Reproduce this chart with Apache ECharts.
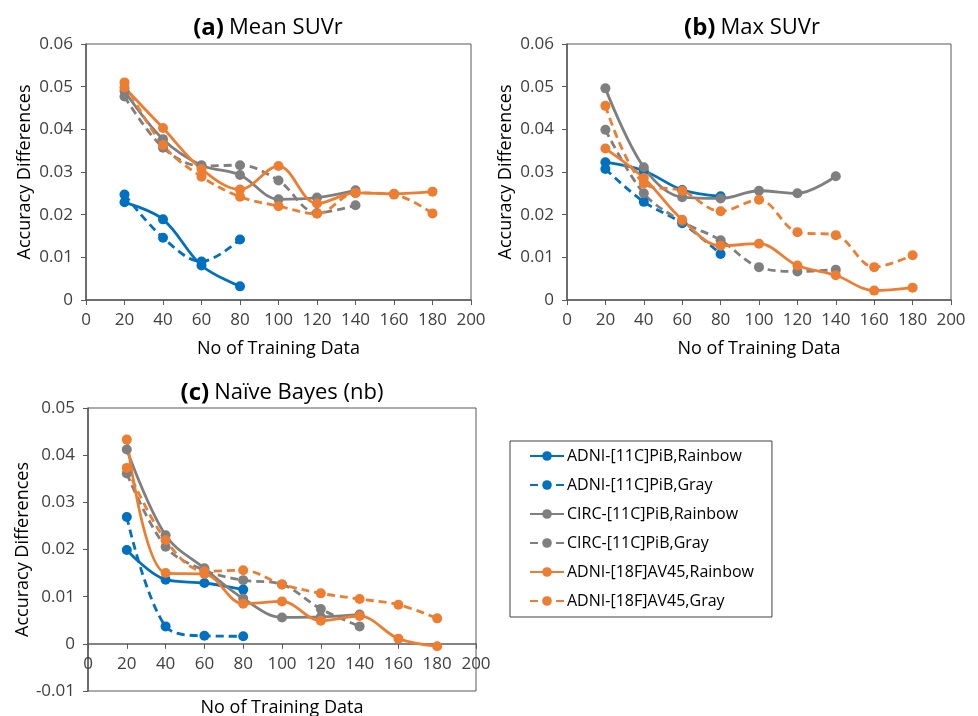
<!DOCTYPE html>
<html>
<head>
<meta charset="utf-8">
<script src="https://cdn.jsdelivr.net/npm/echarts@6/dist/echarts.min.js"></script>
<style>
  html, body { margin: 0; padding: 0; background: #fff; }
  #main { width: 978px; height: 716px; }
</style>
</head>
<body>
<div id="main"></div>
<script>
// training data sizes shared by all panels
var trainSizes = [20, 40, 60, 80, 100, 120, 140, 160, 180];

// (a) Mean SUVr
var meanPibRainbow = [0.0229, 0.0189, 0.0081, 0.0032];
var meanPibGray = [0.0247, 0.0146, 0.0090, 0.0142];
var meanCircRainbow = [0.0490, 0.0377, 0.0316, 0.0293, 0.0236, 0.0240, 0.0257];
var meanCircGray = [0.0477, 0.0357, 0.0314, 0.0316, 0.0280, 0.0204, 0.0222];
var meanAv45Rainbow = [0.0498, 0.0403, 0.0307, 0.0259, 0.0314, 0.0226, 0.0251, 0.0249, 0.0254];
var meanAv45Gray = [0.0510, 0.0363, 0.0289, 0.0242, 0.0220, 0.0202, 0.0251, 0.0247, 0.0203];

// (b) Max SUVr
var maxPibRainbow = [0.0323, 0.0303, 0.0258, 0.0243];
var maxPibGray = [0.0307, 0.0230, 0.0180, 0.0108];
var maxCircRainbow = [0.0496, 0.0311, 0.0241, 0.0238, 0.0256, 0.0250, 0.0290];
var maxCircGray = [0.0399, 0.0250, 0.0184, 0.0140, 0.0077, 0.0067, 0.0071];
var maxAv45Rainbow = [0.0355, 0.0286, 0.0188, 0.0127, 0.0132, 0.0081, 0.0058, 0.0022, 0.0029];
var maxAv45Gray = [0.0455, 0.0273, 0.0256, 0.0208, 0.0235, 0.0159, 0.0152, 0.0077, 0.0105];

// (c) Naive Bayes
var nbPibRainbow = [0.0199, 0.0136, 0.0129, 0.0115];
var nbPibGray = [0.0269, 0.0037, 0.0017, 0.0016];
var nbCircRainbow = [0.0412, 0.0230, 0.0160, 0.0096, 0.0056, 0.0057, 0.0062];
var nbCircGray = [0.0361, 0.0206, 0.0156, 0.0135, 0.0126, 0.0074, 0.0037];
var nbAv45Rainbow = [0.0433, 0.0150, 0.0148, 0.0085, 0.0090, 0.0049, 0.0059, 0.0011, -0.0005];
var nbAv45Gray = [0.0373, 0.0220, 0.0154, 0.0156, 0.0126, 0.0107, 0.0095, 0.0083, 0.0054];

var seriesNames = [
  'ADNI-[11C]PiB,Rainbow', 'ADNI-[11C]PiB,Gray',
  'CIRC-[11C]PiB,Rainbow', 'CIRC-[11C]PiB,Gray',
  'ADNI-[18F]AV45,Rainbow', 'ADNI-[18F]AV45,Gray'
];
var seriesColors = ['#0070C0', '#0070C0', '#7F7F7F', '#7F7F7F', '#ED7D31', '#ED7D31'];
var seriesDashed = [false, true, false, true, false, true];

var panels = [
  [meanPibRainbow, meanPibGray, meanCircRainbow, meanCircGray, meanAv45Rainbow, meanAv45Gray],
  [maxPibRainbow, maxPibGray, maxCircRainbow, maxCircGray, maxAv45Rainbow, maxAv45Gray],
  [nbPibRainbow, nbPibGray, nbCircRainbow, nbCircGray, nbAv45Rainbow, nbAv45Gray]
];

var font = "'Open Sans', 'Liberation Sans', sans-serif";
var ink = '#404040';
var axisCol = '#595959';

var grids = [
  { left: 86, top: 44, width: 385, height: 256 },
  { left: 567, top: 44, width: 384, height: 256 },
  { left: 88, top: 408, width: 388, height: 283 }
];
var yRanges = [[0, 0.06], [0, 0.06], [-0.01, 0.05]];

var chart = echarts.init(document.getElementById('main'), null, { renderer: 'canvas' });

var titleRich = {
  b: { fontFamily: font, fontSize: 24, fontWeight: 'bold', color: '#000' },
  r: { fontFamily: font, fontSize: 22, fontWeight: 'normal', color: '#000' }
};

var xAxes = [], yAxes = [], series = [];
grids.forEach(function(g, gi) {
  g.show = true;
  g.borderColor = axisCol;
  g.borderWidth = 1;
  g.outerBoundsMode = 'none';
  g.containLabel = false;
  // x axis sits on the zero line: shift it up from the grid bottom
  var ymin = yRanges[gi][0], ymax = yRanges[gi][1];
  var zeroShift = -g.height * (0 - ymin) / (ymax - ymin);
  xAxes.push({
    type: 'value', gridIndex: gi, min: 0, max: 200, interval: 20,
    offset: zeroShift,
    name: 'No of Training Data', nameLocation: 'middle', nameGap: gi === 2 ? 55 : 40,
    nameTextStyle: { fontFamily: font, fontSize: 18, color: '#000' },
    axisLine: { show: true, onZero: false, lineStyle: { color: axisCol, width: 1.5 } },
    axisTick: { show: true, length: 5, lineStyle: { color: axisCol } },
    axisLabel: { fontFamily: font, fontSize: 17, color: ink, margin: 12 },
    splitLine: { show: false }
  });
  yAxes.push({
    type: 'value', gridIndex: gi, min: ymin, max: ymax, interval: 0.01,
    name: 'Accuracy Differences', nameLocation: 'middle', nameGap: 52,
    nameTextStyle: { fontFamily: font, fontSize: 18, color: '#000' },
    axisLine: { show: true, onZero: false, lineStyle: { color: axisCol, width: 1.5 } },
    axisTick: { show: true, length: 5, lineStyle: { color: axisCol } },
    axisLabel: { fontFamily: font, fontSize: 17, color: ink, margin: 13 },
    splitLine: { show: false }
  });
  panels[gi].forEach(function(vals, si) {
    series.push({
      name: seriesNames[si], type: 'line', xAxisIndex: gi, yAxisIndex: gi,
      data: vals.map(function(v, i) { return [trainSizes[i], v]; }),
      smooth: 0.35,
      symbol: 'circle', symbolSize: 10,
      color: seriesColors[si],
      itemStyle: { color: seriesColors[si] },
      lineStyle: { width: 2.8, color: seriesColors[si], type: seriesDashed[si] ? [8, 5] : 'solid' },
      z: 2
    });
  });
});

chart.setOption({
  animation: false,
  backgroundColor: '#fff',
  title: [
    { text: '{b|(a)} {r|Mean SUVr}', left: 263, top: 11, textAlign: 'center', textStyle: { rich: titleRich } },
    { text: '{b|(b)} {r|Max SUVr}', left: 747, top: 11, textAlign: 'center', textStyle: { rich: titleRich } },
    { text: '{b|(c)} {r|Naïve Bayes (nb)}', left: 277, top: 376, textAlign: 'center', textStyle: { rich: titleRich } }
  ],
  legend: {
    data: seriesNames, orient: 'vertical', left: 510, top: 441,
    padding: [7, 18, 8, 19],
    borderColor: '#404040', borderWidth: 1,
    itemWidth: 34, itemHeight: 12, itemGap: 13,
    textStyle: { fontFamily: font, fontSize: 16, color: '#000', padding: [0, 0, 0, -2] }
  },
  grid: grids,
  xAxis: xAxes,
  yAxis: yAxes,
  series: series
});
</script>
</body>
</html>
